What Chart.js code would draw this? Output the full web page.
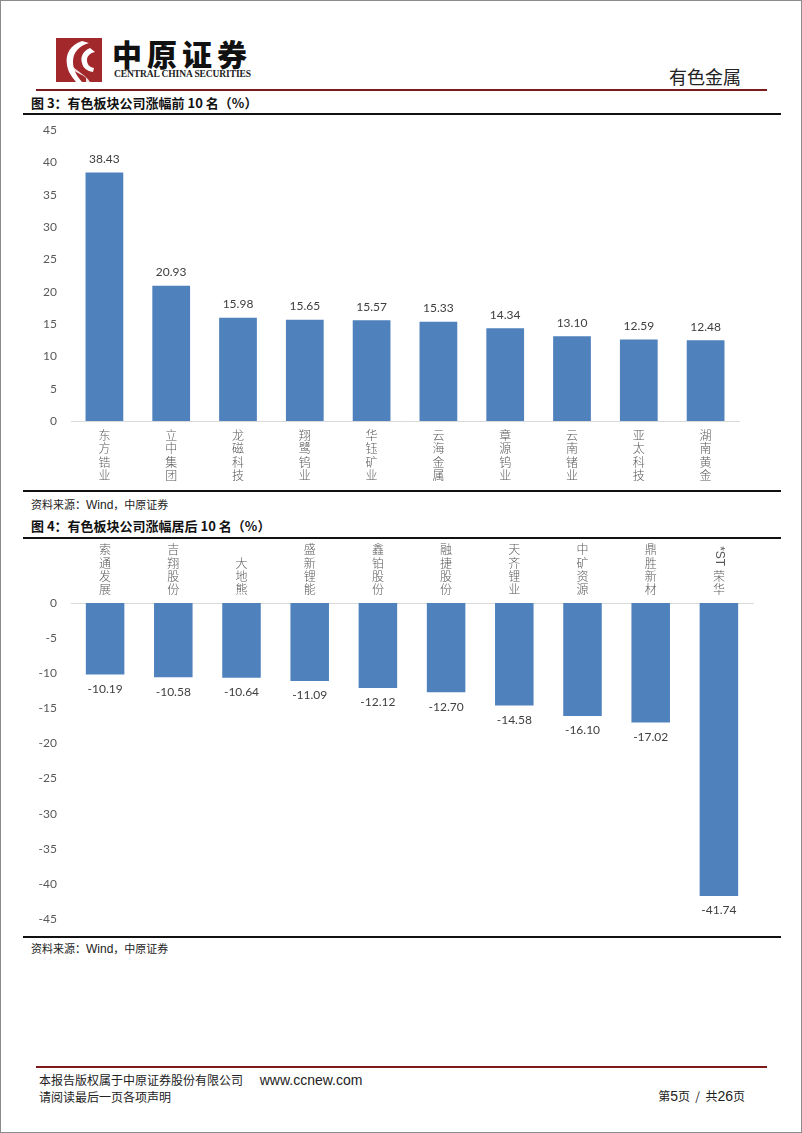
<!DOCTYPE html>
<html>
<head>
<meta charset="utf-8">
<script src="https://cdn.jsdelivr.net/npm/chart.js@4/dist/chart.umd.min.js"></script>
<style>
  html, body { margin: 0; padding: 0; background: #fff; }
  #page { position: relative; width: 802px; height: 1133px; box-sizing: border-box; border: 1px solid #8c8c8c; overflow: hidden; font-family: "Noto Sans CJK SC", "Noto Sans", sans-serif; }
  .abs { position: absolute; white-space: nowrap; }
  .rule { position: absolute; }
  canvas { position: absolute; left: 0; }
</style>
</head>
<body>
<div id="page">
  <!-- logo -->
  <svg class="abs" style="left:55px;top:37px" width="46" height="44" viewBox="0 0 46 44">
    <rect x="0" y="0" width="46" height="44" fill="#a3282c"/>
    <path d="M26 3 C14 7 9 16 11 27 C12 34 16 39 20 44 L26 44 C20 37 17 31 17 24 C17 14 23 8 33 5 Z" fill="#ffffff"/>
    <path d="M34 10 C27 13 24 19 26 25 C27 30 31 33 37 34 L38 30 C33 29 31 26 31 22 C31 18 34 15 39 14 Z" fill="#ffffff"/>
    <path d="M14 30 C18 34 26 36 30 40 L30 44 L34 44 C30 37 22 34 16 28 Z" fill="#ffffff" opacity="0.85"/>
  </svg>
  <div class="abs" style="left:111px;top:37px;font-size:30px;line-height:30px;font-weight:900;letter-spacing:5px;color:#111;font-family:'Noto Sans CJK SC';">中原证券</div>
  <div class="abs" style="left:113px;top:68px;font-size:9.5px;line-height:10px;font-weight:bold;color:#222;font-family:'Liberation Serif',serif;letter-spacing:-0.1px;">CENTRAL CHINA SECURITIES</div>
  <div class="abs" style="left:668px;top:62px;font-size:18px;color:#222;">有色金属</div>
  <div class="rule" style="left:35px;top:88px;width:731px;height:2px;background:#7d1a1c;"></div>

  <div class="abs" style="left:30px;top:92px;font-size:13px;font-weight:bold;color:#111;">图 3：有色板块公司涨幅前 10 名（%）</div>
  <div class="rule" style="left:22px;top:112px;width:758px;height:2px;background:#111;"></div>

  <canvas id="c1" width="802" height="372" style="top:116px"></canvas>

  <div class="rule" style="left:22px;top:489px;width:758px;height:2px;background:#111;"></div>
  <div class="abs" style="left:30px;top:495px;font-size:11px;color:#222;">资料来源：<span style="font-family:'Liberation Sans';font-size:12px">Wind</span>，中原证券</div>

  <div class="abs" style="left:30px;top:515px;font-size:13px;font-weight:bold;color:#111;">图 4：有色板块公司涨幅居后 10 名（%）</div>
  <div class="rule" style="left:22px;top:536px;width:758px;height:2px;background:#111;"></div>

  <canvas id="c2" width="802" height="397" style="top:539px"></canvas>

  <div class="rule" style="left:22px;top:935px;width:758px;height:2px;background:#111;"></div>
  <div class="abs" style="left:30px;top:939px;font-size:11px;color:#222;">资料来源：<span style="font-family:'Liberation Sans';font-size:12px">Wind</span>，中原证券</div>

  <div class="rule" style="left:35px;top:1065px;width:731px;height:2px;background:#7d1a1c;"></div>
  <div class="abs" style="left:38px;top:1070px;font-size:12px;color:#222;">本报告版权属于中原证券股份有限公司 <span style="font-family:'Liberation Sans';font-size:14px;margin-left:14px">www.ccnew.com</span></div>
  <div class="abs" style="left:38px;top:1087px;font-size:12px;color:#222;">请阅读最后一页各项声明</div>
  <div class="abs" style="right:56px;top:1086px;font-size:12px;color:#222;">第<span style="font-family:'Liberation Sans';font-size:14px">5</span>页 &nbsp;/ &nbsp;共<span style="font-family:'Liberation Sans';font-size:14px">26</span>页</div>
</div>

<script>
// ---- data ----
const topNames = ['东方锆业','立中集团','龙磁科技','翔鹭钨业','华钰矿业','云海金属','章源钨业','云南锗业','亚太科技','湖南黄金'];
const topValues = [38.43, 20.93, 15.98, 15.65, 15.57, 15.33, 14.34, 13.10, 12.59, 12.48];
const topTicks = [0, 5, 10, 15, 20, 25, 30, 35, 40, 45];

const bottomNames = ['索通发展','吉翔股份','大地熊','盛新锂能','鑫铂股份','融捷股份','天齐锂业','中矿资源','鼎胜新材','*ST荣华'];
const bottomValues = [-10.19, -10.58, -10.64, -11.09, -12.12, -12.70, -14.58, -16.10, -17.02, -41.74];
const bottomTicks = [-45, -40, -35, -30, -25, -20, -15, -10, -5, 0];

// ---- styles ----
const BAR = '#4f81bd';
const AXIS = '#d9d9d9';
const TICK = '#595959';
const CAT_FONT = { family: "'Noto Sans CJK SC'", size: 12, weight: 300, lineHeight: 1.1 };
const NUM_FONT = "12px Lato, 'Liberation Sans', sans-serif";

function splitLabel(label) {
  if (label.startsWith('*ST')) {
    return ['', ''].concat(Array.from(label.slice(3)));
  }
  return Array.from(label);
}

const dataLabels = {
  id: 'dataLabels',
  afterDatasetsDraw(chart) {
    const ctx = chart.ctx;
    const meta = chart.getDatasetMeta(0);
    const vals = chart.data.datasets[0].data;
    ctx.save();
    ctx.font = NUM_FONT;
    ctx.fillStyle = '#404040';
    ctx.textAlign = 'center';
    ctx.textBaseline = 'middle';
    meta.data.forEach((bar, i) => {
      const v = vals[i];
      const y = v >= 0 ? bar.y - 13.5 : bar.y + 14.5;
      ctx.fillText(v.toFixed(2), bar.x, y);
    });
    ctx.restore();
  }
};

const rotatedST = {
  id: 'rotatedST',
  afterDraw(chart) {
    const xs = chart.scales.x;
    const labels = chart.data.labels;
    const ctx = chart.ctx;
    labels.forEach((lab, i) => {
      if (!lab.startsWith('*ST')) return;
      const x = xs.getPixelForTick(i);
      const lh = 13.2;
      const lines = splitLabel(lab).length;
      const top = xs.bottom - 7 - lines * lh;
      ctx.save();
      ctx.translate(x, top + 3);
      ctx.rotate(Math.PI / 2);
      ctx.font = "12px 'Liberation Sans', sans-serif";
      ctx.fillStyle = TICK;
      ctx.textAlign = 'left';
      ctx.textBaseline = 'middle';
      ctx.fillText('*ST', 0, 0);
      ctx.restore();
    });
  }
};

function makeChart(id, names, values, ticks, opts) {
  return new Chart(document.getElementById(id), {
    type: 'bar',
    data: {
      labels: names,
      datasets: [{ data: values, backgroundColor: BAR, borderWidth: 0,
                   categoryPercentage: 1, barPercentage: 0.565 }]
    },
    options: {
      responsive: false,
      animation: false,
      devicePixelRatio: 1,
      layout: { padding: opts.padding },
      plugins: { legend: { display: false }, tooltip: { enabled: false } },
      scales: {
        x: {
          position: opts.xPos,
          grid: { display: false, drawTicks: false },
          border: { display: true, color: AXIS, width: 1 },
          ticks: {
            color: TICK, font: CAT_FONT, padding: opts.xPad,
            maxRotation: 0, minRotation: 0, autoSkip: false,
            callback: function (v) { return splitLabel(this.getLabelForValue(v)); }
          },
          afterFit: (s) => { s.height = opts.xHeight; }
        },
        y: {
          min: ticks[0], max: ticks[ticks.length - 1],
          afterBuildTicks: (s) => { s.ticks = ticks.map(v => ({ value: v })); },
          grid: { display: false, drawTicks: false },
          border: { display: false },
          ticks: { color: TICK, font: { family: "Lato, 'Liberation Sans', sans-serif", size: 12 }, padding: opts.yPad },
          afterFit: (s) => { s.width = opts.yWidth; s.paddingTop = 0; s.paddingBottom = 0; }
        }
      }
    },
    plugins: opts.plugins
  });
}

makeChart('c1', topNames, topValues, topTicks, {
  padding: { left: 0, right: 64, top: 13, bottom: 0 },
  xPos: 'bottom', xPad: 8, xHeight: 68, yWidth: 70, yPad: 14,
  plugins: [dataLabels]
});

makeChart('c2', bottomNames, bottomValues, bottomTicks, {
  padding: { left: 0, right: 50, top: 0, bottom: 18 },
  xPos: 'top', xPad: 7, xHeight: 63, yWidth: 70, yPad: 14,
  plugins: [dataLabels, rotatedST]
});
</script>
</body>
</html>
